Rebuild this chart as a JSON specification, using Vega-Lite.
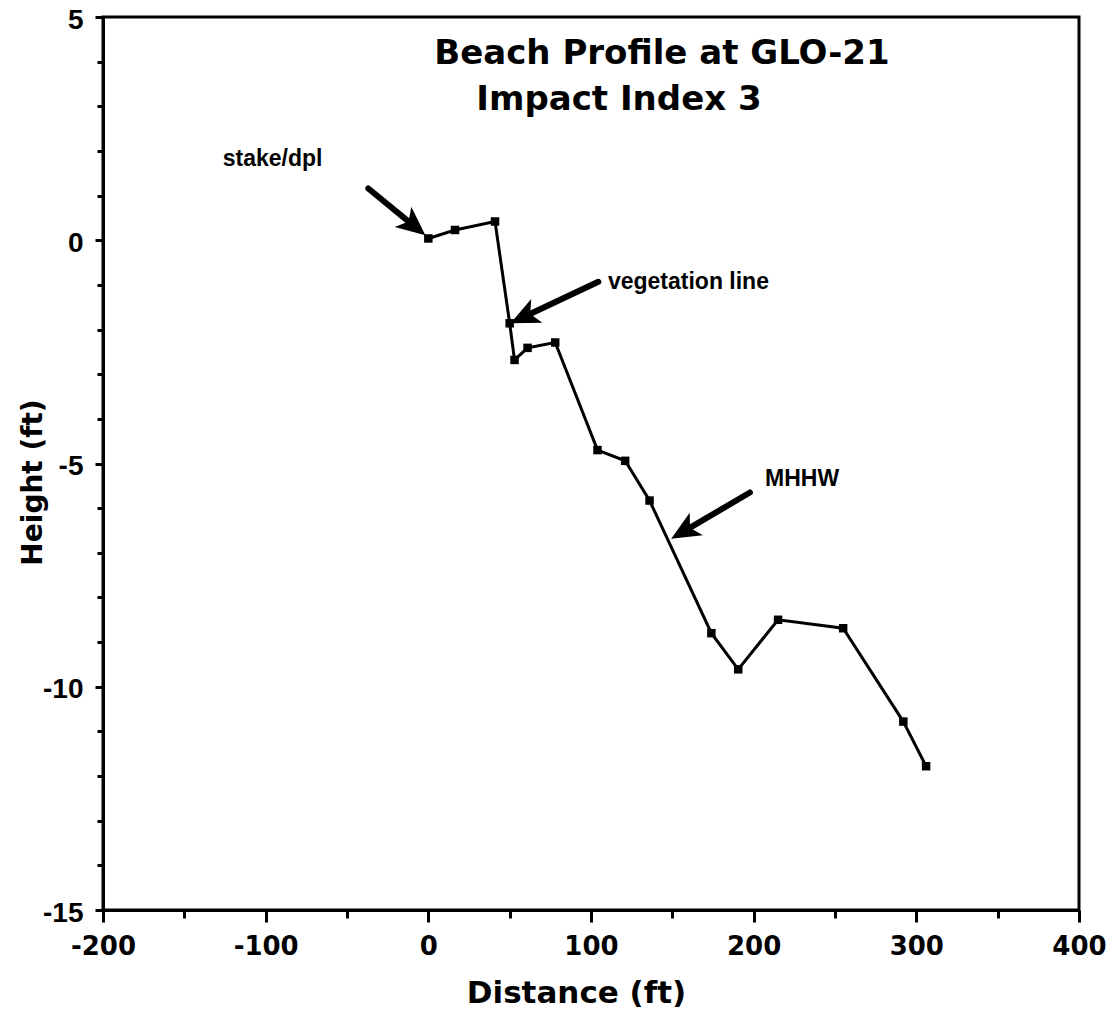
{
  "$schema": "https://vega.github.io/schema/vega-lite/v6.json",
  "width": 976,
  "height": 893,
  "autosize": {"type": "none"},
  "padding": {"left": 103, "top": 17, "right": 38, "bottom": 105},
  "background": "white",
  "config": {
    "view": {"stroke": "black", "strokeWidth": 3},
    "axis": {
      "grid": false,
      "domainColor": "black",
      "domainWidth": 3,
      "tickColor": "black",
      "tickWidth": 3,
      "labelColor": "black",
      "titleColor": "black"
    }
  },
  "datasets": {
    "profile": [
      {"distance": 0, "height": 0.04},
      {"distance": 16.4, "height": 0.23},
      {"distance": 41, "height": 0.42},
      {"distance": 50, "height": -1.86},
      {"distance": 53, "height": -2.68},
      {"distance": 61, "height": -2.41},
      {"distance": 78, "height": -2.29},
      {"distance": 104, "height": -4.7},
      {"distance": 121, "height": -4.94},
      {"distance": 136, "height": -5.83},
      {"distance": 174, "height": -8.8},
      {"distance": 190.5, "height": -9.61},
      {"distance": 215, "height": -8.5},
      {"distance": 255, "height": -8.69},
      {"distance": 292, "height": -10.78},
      {"distance": 306, "height": -11.78}
    ],
    "arrows": [
      {"label": "stake/dpl", "x": -36.9, "y": 1.16, "hx": -8.7, "hy": 0.317},
      {"label": "vegetation line", "x": 104.5, "y": -0.93, "hx": 58.6, "hy": -1.72},
      {"label": "MHHW", "x": 197.7, "y": -5.65, "hx": 157.0, "hy": -6.52}
    ],
    "notes": [
      {"text": "stake/dpl", "x": -126.4, "y": 1.66},
      {"text": "vegetation  line", "x": 110.4, "y": -1.09},
      {"text": "MHHW", "x": 207.0, "y": -5.5}
    ],
    "titles": [
      {"text": "Beach  Profile  at  GLO-21", "x": 143.6, "y": 3.95},
      {"text": "Impact  Index  3", "x": 117.2, "y": 2.92}
    ]
  },
  "resolve": {"axis": {"x": "independent", "y": "independent"}},
  "layer": [
    {
      "data": {"name": "profile"},
      "mark": {"type": "line", "color": "black", "strokeWidth": 3},
      "encoding": {
        "x": {
          "field": "distance", "type": "quantitative",
          "scale": {"domain": [-200, 400], "nice": false, "zero": false},
          "axis": {
            "orient": "bottom",
            "values": [-200, -100, 0, 100, 200, 300, 400],
            "labelExpr": "datum.value < 0 ? '-' + abs(datum.value) : '' + datum.value",
            "tickSize": 12,
            "labelFont": "DejaVu Sans",
            "labelFontWeight": "bold",
            "labelFontSize": 26,
            "labelPadding": 11,
            "labelFlush": false,
            "title": "Distance  (ft)",
            "titleFont": "DejaVu Sans",
            "titleFontWeight": "bold",
            "titleFontSize": 31,
            "titleX": 473,
            "titleY": 92,
            "titleBaseline": "alphabetic"
          }
        },
        "y": {
          "field": "height", "type": "quantitative",
          "scale": {"domain": [-15, 5], "nice": false, "zero": false},
          "axis": {
            "orient": "left",
            "values": [-15, -10, -5, 0, 5],
            "labelExpr": "datum.value < 0 ? '-' + abs(datum.value) : '' + datum.value",
            "tickSize": 8,
            "labelFont": "Liberation Sans",
            "labelFontWeight": "bold",
            "labelFontSize": 28,
            "labelPadding": 12,
            "labelOffset": 3,
            "labelFlush": false,
            "title": "Height  (ft)",
            "titleFont": "DejaVu Sans",
            "titleFontWeight": "bold",
            "titleFontSize": 28,
            "titleX": -62,
            "titleY": 465,
            "titleAngle": 270,
            "titleBaseline": "alphabetic"
          }
        }
      }
    },
    {
      "data": {"name": "profile"},
      "mark": {"type": "point", "shape": "square", "filled": true, "color": "black", "opacity": 1, "size": 72},
      "encoding": {
        "x": {
          "field": "distance", "type": "quantitative",
          "scale": {"domain": [-200, 400], "nice": false, "zero": false},
          "axis": {
            "orient": "bottom",
            "values": [-150, -50, 50, 150, 250, 350],
            "tickSize": 8,
            "labels": false,
            "domain": false,
            "title": null
          }
        },
        "y": {
          "field": "height", "type": "quantitative",
          "scale": {"domain": [-15, 5], "nice": false, "zero": false},
          "axis": {
            "orient": "left",
            "values": [-14, -13, -12, -11, -9, -8, -7, -6, -4, -3, -2, -1, 1, 2, 3, 4],
            "tickSize": 6,
            "labels": false,
            "domain": false,
            "title": null
          }
        }
      }
    },
    {
      "data": {"name": "arrows"},
      "mark": {"type": "rule", "color": "black", "strokeWidth": 6, "strokeCap": "round"},
      "encoding": {
        "x": {"field": "x", "type": "quantitative", "scale": {"domain": [-200, 400], "nice": false, "zero": false}, "axis": null},
        "y": {"field": "y", "type": "quantitative", "scale": {"domain": [-15, 5], "nice": false, "zero": false}, "axis": null},
        "x2": {"field": "hx"},
        "y2": {"field": "hy"}
      }
    },
    {
      "data": {"name": "arrows"},
      "transform": [{"filter": "datum.label === 'stake/dpl'"}],
      "mark": {"type": "point", "shape": "M1,0L-1,-0.9L-0.5,0L-1,0.9Z", "filled": true, "color": "black", "opacity": 1, "size": 841, "angle": 39.5},
      "encoding": {
        "x": {"field": "hx", "type": "quantitative", "scale": {"domain": [-200, 400], "nice": false, "zero": false}, "axis": null},
        "y": {"field": "hy", "type": "quantitative", "scale": {"domain": [-15, 5], "nice": false, "zero": false}, "axis": null}
      }
    },
    {
      "data": {"name": "arrows"},
      "transform": [{"filter": "datum.label === 'vegetation line'"}],
      "mark": {"type": "point", "shape": "M1,0L-1,-0.9L-0.5,0L-1,0.9Z", "filled": true, "color": "black", "opacity": 1, "size": 841, "angle": 154.7},
      "encoding": {
        "x": {"field": "hx", "type": "quantitative", "scale": {"domain": [-200, 400], "nice": false, "zero": false}, "axis": null},
        "y": {"field": "hy", "type": "quantitative", "scale": {"domain": [-15, 5], "nice": false, "zero": false}, "axis": null}
      }
    },
    {
      "data": {"name": "arrows"},
      "transform": [{"filter": "datum.label === 'MHHW'"}],
      "mark": {"type": "point", "shape": "M1,0L-1,-0.9L-0.5,0L-1,0.9Z", "filled": true, "color": "black", "opacity": 1, "size": 841, "angle": 149.8},
      "encoding": {
        "x": {"field": "hx", "type": "quantitative", "scale": {"domain": [-200, 400], "nice": false, "zero": false}, "axis": null},
        "y": {"field": "hy", "type": "quantitative", "scale": {"domain": [-15, 5], "nice": false, "zero": false}, "axis": null}
      }
    },
    {
      "data": {"name": "notes"},
      "mark": {"type": "text", "align": "left", "baseline": "alphabetic", "font": "Liberation Sans", "fontWeight": "bold", "fontSize": 23, "color": "black"},
      "encoding": {
        "x": {"field": "x", "type": "quantitative", "scale": {"domain": [-200, 400], "nice": false, "zero": false}, "axis": null},
        "y": {"field": "y", "type": "quantitative", "scale": {"domain": [-15, 5], "nice": false, "zero": false}, "axis": null},
        "text": {"field": "text"}
      }
    },
    {
      "data": {"name": "titles"},
      "mark": {"type": "text", "align": "center", "baseline": "alphabetic", "font": "DejaVu Sans", "fontWeight": "bold", "fontSize": 34, "color": "black"},
      "encoding": {
        "x": {"field": "x", "type": "quantitative", "scale": {"domain": [-200, 400], "nice": false, "zero": false}, "axis": null},
        "y": {"field": "y", "type": "quantitative", "scale": {"domain": [-15, 5], "nice": false, "zero": false}, "axis": null},
        "text": {"field": "text"}
      }
    }
  ]
}
